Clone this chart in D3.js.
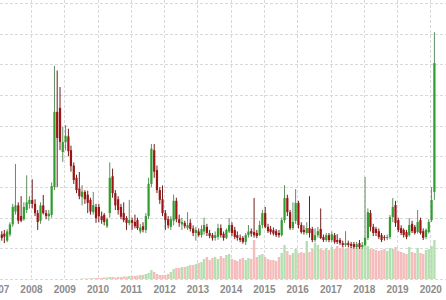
<!DOCTYPE html>
<html><head><meta charset="utf-8">
<script src="https://cdn.jsdelivr.net/npm/d3@7"></script>
<style>html,body{margin:0;padding:0;background:#fff;overflow:hidden}</style>
</head><body><svg id="c" width="446" height="300"></svg>
<script>
// monthly candles, Jan 2007 .. Feb 2020
const firstMonth = "2007-01";
const openV = [
 11.1,14.5,14.8,12.5,14.5,17.8,22.0,24.0,20.5,19.5,22.5,24.5,
 25.8,24.5,21.5,19.0,24.0,21.5,20.5,20.9,30.0,54.5,55.8,41.4,
 44.7,46.5,42.0,37.0,33.0,29.5,26.7,28.4,27.5,25.8,21.8,23.5,
 23.5,20.5,20.9,17.2,21.5,33.5,28.0,26.0,23.5,21.5,19.9,18.2,
 19.2,18.6,19.2,15.5,17.2,16.0,20.5,31.0,42.0,35.5,29.0,26.0,
 21.5,19.5,17.0,19.0,25.5,19.5,17.8,18.3,16.6,18.3,16.5,15.0,
 15.5,14.3,15.5,17.0,15.0,14.3,13.4,13.7,16.6,14.8,13.4,15.5,
 17.6,16.0,14.3,13.4,13.4,12.1,14.3,15.6,15.3,15.0,14.3,17.6,
 21.5,17.0,16.3,15.9,15.6,15.0,14.3,19.2,26.4,21.8,16.6,19.0,
 24.8,17.6,16.0,15.0,16.6,16.3,12.7,14.3,16.3,13.7,12.7,14.3,
 12.7,14.3,12.7,12.7,11.7,11.1,11.7,11.4,11.4,10.4,11.7,10.4,
 11.1,13.4,21.5,17.0,16.3,15.6,14.3,13.7,13.4,13.7,20.2,24.1,
 19.2,16.6,16.0,15.3,14.3,18.0,17.0,15.3,19.2,15.6,13.7,15.3,
 19.2,28.4];
const highV = [
 14.2,15.6,16.0,16.2,18.5,24.5,37.5,25.0,27.0,25.0,33.8,27.0,
 32.5,26.0,22.5,25.0,27.4,22.5,22.5,31.5,69.5,68.0,62.6,49.6,
 50.2,49.0,43.5,38.0,34.0,34.9,30.6,29.0,28.8,26.5,28.4,24.5,
 24.5,22.0,21.5,20.0,38.0,36.0,29.0,27.0,24.5,25.0,20.5,25.8,
 20.0,21.0,20.0,18.0,18.5,21.5,33.0,44.0,44.0,37.0,30.0,30.5,
 22.5,20.5,20.5,27.5,26.5,21.0,20.0,19.0,21.8,19.5,17.5,17.0,
 16.5,17.5,20.0,18.0,16.0,15.0,15.5,18.0,17.8,15.5,16.5,19.9,
 18.5,17.0,15.5,14.5,14.0,15.0,17.6,16.5,26.4,16.0,19.0,22.5,
 23.5,18.0,17.3,16.8,16.3,16.0,20.0,30.6,27.5,22.5,25.0,29.3,
 25.5,18.5,17.5,18.5,27.0,17.0,16.5,17.0,23.0,14.5,15.0,15.0,
 15.5,15.0,14.6,13.4,12.5,15.6,12.5,12.1,12.1,12.1,12.7,12.1,
 33.3,23.0,22.5,18.0,17.0,16.5,15.0,14.3,14.5,20.9,26.4,25.5,
 20.0,17.5,16.5,16.0,19.9,19.0,17.6,22.5,20.0,16.5,16.5,19.5,
 30.0,80.5];
const lowV = [
 10.0,12.5,11.7,12.0,13.8,17.0,21.0,18.0,18.5,19.0,21.5,23.0,
 23.0,20.5,16.0,18.0,21.0,19.5,19.0,20.0,29.0,30.0,42.0,38.2,
 42.0,40.0,35.0,31.0,28.0,26.0,24.0,24.5,21.5,21.0,21.0,18.3,
 18.5,18.0,17.5,16.6,20.0,26.5,22.5,21.0,19.5,18.5,16.0,17.5,
 16.0,16.5,16.0,14.8,15.2,15.0,19.5,30.0,33.0,28.0,24.5,20.5,
 16.0,16.5,16.0,17.5,18.5,17.0,16.0,16.5,16.0,15.5,14.0,12.5,
 13.8,13.5,14.5,14.0,13.3,12.5,12.5,12.8,13.5,12.5,13.0,15.0,
 14.0,13.0,12.5,12.0,11.5,11.1,13.5,13.8,13.5,13.3,14.0,16.5,
 16.5,15.0,14.5,14.2,13.7,13.5,13.8,18.3,20.5,16.0,16.0,18.0,
 16.5,14.8,14.5,14.5,13.5,12.0,12.0,13.5,13.0,12.1,12.1,12.0,
 12.1,11.5,11.4,11.1,10.5,10.5,10.3,10.1,9.8,9.8,9.8,9.8,
 10.8,12.7,15.5,14.0,14.0,13.0,12.0,12.5,12.7,13.0,18.5,17.0,
 15.3,14.3,13.5,13.0,13.8,15.0,14.5,14.8,14.5,12.7,13.0,14.8,
 18.6,25.8];
const closeV = [
 13.4,13.4,13.8,15.5,17.8,23.5,24.0,19.0,19.0,23.5,25.0,25.8,
 24.5,21.5,18.6,24.0,21.5,20.5,21.3,30.3,54.5,46.0,44.7,44.7,
 46.6,41.7,36.8,32.3,29.0,27.0,28.5,26.0,24.8,22.0,24.1,19.8,
 20.5,19.2,18.6,19.5,33.0,28.0,24.0,22.5,20.3,19.2,18.3,19.2,
 18.3,17.2,16.6,16.8,16.0,20.5,31.0,42.5,35.0,29.0,25.8,21.5,
 19.2,17.5,19.5,25.5,19.5,18.3,18.6,17.2,17.6,16.3,15.0,16.0,
 14.3,16.3,17.6,15.0,14.0,13.4,14.3,16.6,14.3,13.4,16.0,17.6,
 15.0,13.7,13.4,12.7,12.1,14.3,15.5,14.8,14.3,14.0,17.6,21.5,
 17.0,15.6,15.3,14.8,14.3,14.3,19.2,26.4,21.8,16.6,18.6,24.8,
 17.6,15.3,15.3,16.6,15.0,12.7,14.3,15.6,13.4,12.7,14.3,12.7,
 14.6,12.1,12.1,11.7,11.1,11.7,11.1,10.8,10.4,11.4,10.4,11.1,
 13.4,21.8,17.0,15.0,15.0,13.7,12.7,13.4,13.7,20.2,23.5,18.3,
 16.0,15.0,14.3,13.7,17.6,15.6,15.0,18.6,15.0,13.4,16.0,18.6,
 25.8,70.4];
const volumeV = [
 0,0,0,0,0,0,0,0,0,0,0,0,
 0,0,0,0,0,0,0,0,0,0,0,0,
 0,0,0,0,0,0,0.5,0.5,0.6,0.7,0.8,1,
 1,1,1.5,1.5,2,2,1.5,2,2,2.5,2.5,3,
 3,3,3.5,4,4,5,6,9,7,5,4,4,
 4,5,7,10,11,11,12,12,13,14,14,15,
 16,17,20,22,19,21,22,20,23,21,24,25,
 20,19,18,20,21,19,21,20,39,22,24,25,
 22,20,19,19,18,22,26,34,28,24,26,30,
 26,27,26,38,27,30,36,34,30,29,31,29,
 32,30,33,31,33,30,31,32,30,31,33,31,
 37,33,30,30,29,28,29,30,28,31,30,32,
 28,27,26,25,32,27,26,31,26,25,29,30,
 33,39];
const yearTicks = [2007,2008,2009,2010,2011,2012,2013,2014,2015,2016,2017,2018,2019,2020];
const priceGrid = [0,10,20,30,40,50,60,70,80,90];

const W = 446, H = 300;
const svg = d3.select("#c");
const [fy, fm] = firstMonth.split("-").map(Number);
const data = openV.map((o, i) => ({
  date: new Date(fy, fm - 1 + i, 15),
  o, h: highV[i], l: lowV[i], c: closeV[i], v: volumeV[i]
}));

const x = d3.scaleTime()
  .domain([new Date(2007, 0, 1), new Date(2020, 0, 1)])
  .range([-2.3, 430.3]);
const y = d3.scaleLinear().domain([0, 90]).range([279, 3]);
const yVol = d3.scaleLinear().domain([0, 100]).range([279, 179]);

// grid
const grid = svg.append("g").attr("stroke", "#d9d9d9").attr("stroke-dasharray", "3,2").attr("stroke-width", 1);
grid.selectAll("line.h").data(priceGrid).join("line")
  .attr("x1", 0).attr("x2", W)
  .attr("y1", d => Math.round(y(d)) + 0.5).attr("y2", d => Math.round(y(d)) + 0.5);
grid.selectAll("line.v").data(yearTicks).join("line")
  .attr("x1", d => Math.round(x(new Date(d, 0, 1))) + 0.5)
  .attr("x2", d => Math.round(x(new Date(d, 0, 1))) + 0.5)
  .attr("y1", 0).attr("y2", 279);

// volume
const bw = 2.4;
svg.append("g").selectAll("rect").data(data.filter(d => d.v > 0)).join("rect")
  .attr("x", d => x(d.date) - bw / 2)
  .attr("width", bw)
  .attr("y", d => yVol(d.v))
  .attr("height", d => 279 - yVol(d.v))
  .attr("fill", d => d.c >= d.o ? "#b4e0b0" : "#f6bcbc");

// candles
const up = "#2f9e2f", down = "#9e1414";
const cg = svg.append("g");
cg.selectAll("line").data(data).join("line")
  .attr("x1", d => x(d.date)).attr("x2", d => x(d.date))
  .attr("y1", d => y(d.h)).attr("y2", d => y(d.l))
  .attr("stroke", d => d.c >= d.o ? "#5f8f5f" : "#6e1d1d")
  .attr("stroke-width", 1);
const cw = 2.2;
cg.selectAll("rect").data(data).join("rect")
  .attr("x", d => x(d.date) - cw / 2)
  .attr("width", cw)
  .attr("y", d => y(Math.max(d.o, d.c)))
  .attr("height", d => Math.max(1, Math.abs(y(d.o) - y(d.c))))
  .attr("fill", d => d.c >= d.o ? up : down);

// x axis
const axis = d3.axisBottom(x)
  .tickValues(yearTicks.map(d => new Date(d, 0, 1)))
  .tickFormat(d3.timeFormat("%Y"))
  .tickSize(0).tickPadding(6.5);
const ax = svg.append("g").attr("transform", "translate(0,279)").call(axis);
ax.select(".domain").remove();
ax.selectAll("text")
  .attr("fill", "#8c8c8c")
  .style("font-family", "'Liberation Sans', Arial, sans-serif")
  .style("font-size", "10px")
  .style("font-weight", "bold");
</script>
</body></html>
